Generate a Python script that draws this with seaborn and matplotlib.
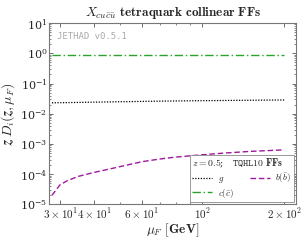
import numpy as np
import pandas as pd
import matplotlib
matplotlib.use("Agg")
import matplotlib.pyplot as plt
import matplotlib.ticker as mticker
import seaborn as sns

# valores (z = 0.5)
mu_F = [28, 30, 32, 35, 40, 45, 50, 60, 70, 80, 100, 120, 150, 200]
ff_g = [0.0230, 0.0232, 0.0234, 0.0237, 0.0242, 0.0246, 0.0250, 0.0256, 0.0261, 0.0265,
        0.0271, 0.0275, 0.0280, 0.0286]
ff_c = [0.88, 0.88, 0.88, 0.88, 0.88, 0.88, 0.88, 0.88, 0.88, 0.88, 0.88, 0.88, 0.88, 0.88]
ff_b = [2.0e-5, 4.5e-5, 6.2e-5, 8.5e-5, 1.15e-4, 1.45e-4, 1.8e-4, 2.6e-4, 3.2e-4, 3.7e-4,
        4.4e-4, 5.0e-4, 5.7e-4, 6.4e-4]

x_ticks = [30, 40, 60, 100, 200]
x_tick_labels = [r"$3\times10^{1}$", r"$4\times10^{1}$", r"$6\times10^{1}$",
                 r"$10^{2}$", r"$2\times10^{2}$"]
x_minor = [50, 70, 80, 90]
y_ticks = [1e-5, 1e-4, 1e-3, 1e-2, 1e-1, 1e0, 1e1]

sns.set_style("ticks")
plt.rcParams['mathtext.fontset'] = 'cm'
plt.rcParams['font.family'] = 'serif'
plt.rcParams['font.serif'] = ['DejaVu Serif']
plt.rcParams['axes.formatter.use_mathtext'] = True

df = pd.DataFrame({'mu': mu_F, 'g': ff_g, 'c': ff_c, 'b': ff_b})

fig = plt.figure(figsize=(3.03, 2.40), dpi=100)
ax = fig.add_axes([0.163, 0.148, 0.814, 0.756])

sns.lineplot(data=df, x='mu', y='g', ax=ax, color='black', linestyle=(0, (1, 1.2)),
             linewidth=0.9, label=r'$g$')
sns.lineplot(data=df, x='mu', y='c', ax=ax, color='#2ca02c', linestyle=(0, (6, 2, 1, 2)),
             linewidth=1.0, label=r'$c(\bar{c})$')
sns.lineplot(data=df, x='mu', y='b', ax=ax, color='#a0179e', linestyle=(0, (4, 2)),
             linewidth=1.0, label=r'$b(\bar{b})$')

ax.set_xscale('log')
ax.set_yscale('log')
ax.set_xlim(27.4, 221)
ax.set_ylim(1e-5, 10)

ax.xaxis.set_major_locator(mticker.FixedLocator(x_ticks))
ax.xaxis.set_major_formatter(mticker.FixedFormatter(x_tick_labels))
ax.xaxis.set_minor_locator(mticker.FixedLocator(x_minor))
ax.xaxis.set_minor_formatter(mticker.NullFormatter())
ax.yaxis.set_major_locator(mticker.FixedLocator(y_ticks))
ax.yaxis.set_major_formatter(mticker.LogFormatterSciNotation())
ax.yaxis.set_minor_locator(mticker.FixedLocator(
    [m * t for t in y_ticks[:-1] for m in range(2, 10)]))
ax.yaxis.set_minor_formatter(mticker.NullFormatter())

ax.tick_params(which='both', direction='in', top=True, right=True, labelsize=8,
               color='#555555')
ax.tick_params(which='major', length=3, width=0.6, pad=1.5)
ax.tick_params(which='minor', length=1.5, width=0.5)
for s in ax.spines.values():
    s.set_color('#777777')
    s.set_linewidth(0.8)

ax.set_title(r'$\boldsymbol{X_{cu\bar{c}\bar{u}}}$ $\mathbf{tetraquark\ collinear\ FFs}$',
             fontsize=9.5, pad=5)
ax.set_xlabel(r'$\boldsymbol{\mu_F}$ $\mathbf{[GeV]}$', fontsize=9.5, labelpad=0)
ax.set_ylabel(r'$\boldsymbol{z\,D_i(z,\mu_F)}$', fontsize=10, labelpad=2)

ax.text(0.03, 0.95, 'JETHAD v0.5.1', transform=ax.transAxes, ha='left', va='top',
        fontsize=6.5, family='DejaVu Sans Mono', color='#aaaaaa')

leg = ax.legend(ncol=2, loc='lower right', fontsize=6.5, frameon=True, fancybox=False,
                edgecolor='#888888', framealpha=1, handlelength=2.2, columnspacing=1.8,
                borderaxespad=0.25, borderpad=0.3, labelspacing=0.15, handletextpad=0.6,
                title=r'$z = 0.5$;   $\mathtt{TQHL10}$ $\mathbf{FFs}$', title_fontsize=7)
leg.get_frame().set_linewidth(0.6)
leg._legend_box.align = 'left'

fig.savefig('out.png', dpi=100)
